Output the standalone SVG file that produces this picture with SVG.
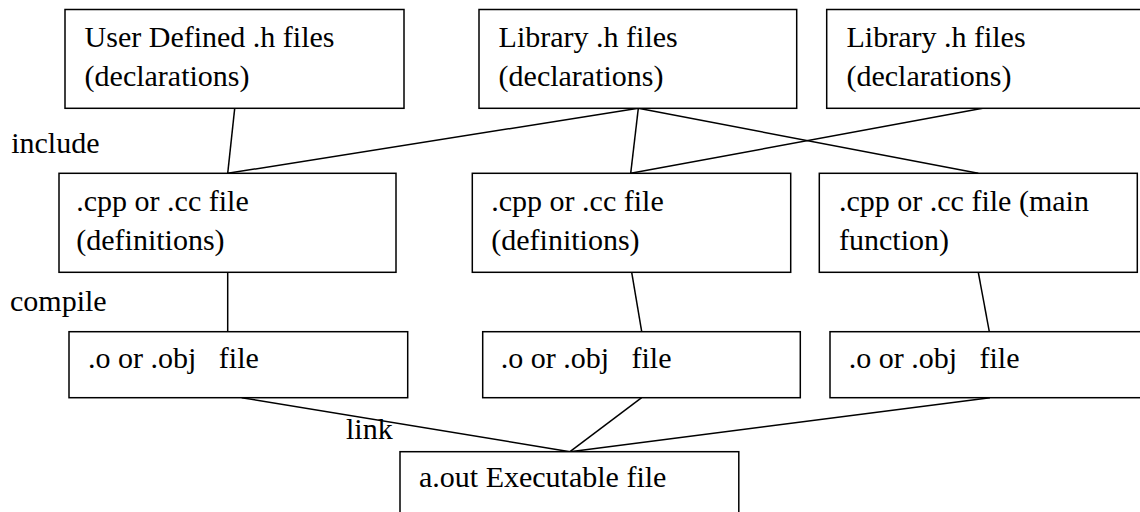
<svg xmlns="http://www.w3.org/2000/svg" width="1140" height="512" viewBox="0 0 1140 512">
<style>
.box{fill:#fff;stroke:#000;stroke-width:1.5}
.t{font-family:"Liberation Serif","Times New Roman",serif;font-size:30px;fill:#000;white-space:pre}
.c line{stroke:#000;stroke-width:1.5}
</style>
<rect width="1140" height="512" fill="#fff"/>
<g class="c" id="connectors">
<line x1="234.7" y1="108.3" x2="227.7" y2="173.3"/>
<line x1="638.3" y1="108.3" x2="227.7" y2="173.3"/>
<line x1="638.3" y1="108.3" x2="630.7" y2="173.3"/>
<line x1="638.3" y1="108.3" x2="978.3" y2="173.3"/>
<line x1="982.7" y1="108.3" x2="630.7" y2="173.3"/>
<line x1="227.7" y1="272.3" x2="227.7" y2="331.7"/>
<line x1="631.7" y1="272.3" x2="641.7" y2="331.7"/>
<line x1="978.3" y1="272.3" x2="989.3" y2="331.7"/>
<line x1="241.7" y1="397.7" x2="570" y2="451.7"/>
<line x1="641.7" y1="397.7" x2="570" y2="451.7"/>
<line x1="990" y1="397.7" x2="570" y2="451.7"/>
</g>
<g id="user-h">
<rect class="box" x="65" y="9.5" width="339" height="98.8"/>
<text class="t" x="84.6" y="46.7">User Defined .h files</text>
<text class="t" x="84.6" y="86">(declarations)</text>
</g>
<g id="lib-h-1">
<rect class="box" x="479" y="9.5" width="317.7" height="98.8"/>
<text class="t" x="498.6" y="46.7">Library .h files</text>
<text class="t" x="498.6" y="86">(declarations)</text>
</g>
<g id="lib-h-2">
<rect class="box" x="826.7" y="9.5" width="320" height="98.8"/>
<text class="t" x="846.5" y="46.7">Library .h files</text>
<text class="t" x="846.5" y="86">(declarations)</text>
</g>
<g id="cpp-1">
<rect class="box" x="59" y="173.3" width="337" height="99"/>
<text class="t" x="76.3" y="210.7">.cpp or .cc file</text>
<text class="t" x="76.3" y="250">(definitions)</text>
</g>
<g id="cpp-2">
<rect class="box" x="472.3" y="173.3" width="318.4" height="99"/>
<text class="t" x="491.3" y="210.7">.cpp or .cc file</text>
<text class="t" x="491.3" y="250">(definitions)</text>
</g>
<g id="cpp-main">
<rect class="box" x="819.3" y="173.3" width="318" height="99"/>
<text class="t" x="839" y="210.7">.cpp or .cc file (main</text>
<text class="t" x="839" y="250">function)</text>
</g>
<g id="obj-1">
<rect class="box" x="69" y="331.7" width="338.7" height="66"/>
<text class="t" x="88" y="368.3">.o or .obj   file</text>
</g>
<g id="obj-2">
<rect class="box" x="482.7" y="331.7" width="317.6" height="66"/>
<text class="t" x="500.7" y="368.3">.o or .obj   file</text>
</g>
<g id="obj-3">
<rect class="box" x="830" y="331.7" width="320" height="66"/>
<text class="t" x="848.7" y="368.3">.o or .obj   file</text>
</g>
<g id="exe">
<rect class="box" x="400" y="451.7" width="338.8" height="70"/>
<text class="t" x="419" y="486.7">a.out Executable file</text>
</g>
<g id="labels">
<text class="t" x="11.2" y="152.7">include</text>
<text class="t" x="10" y="311">compile</text>
<text class="t" x="346" y="439.3">link</text>
</g>
</svg>
